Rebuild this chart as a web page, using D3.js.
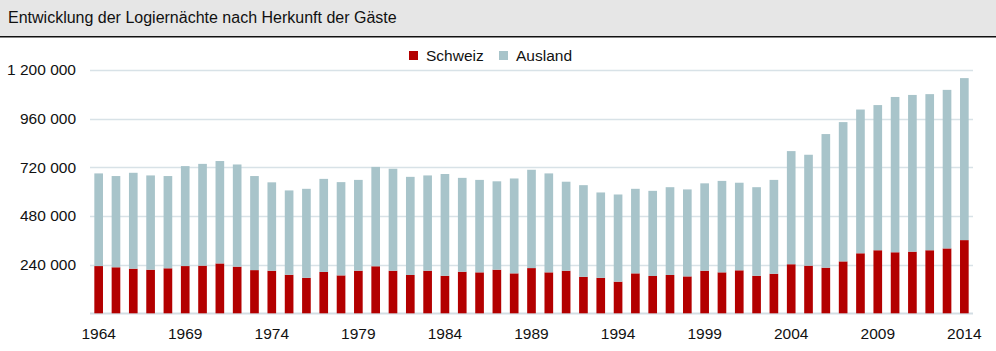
<!DOCTYPE html>
<html><head><meta charset="utf-8">
<script src="https://cdn.jsdelivr.net/npm/d3@7"></script>
<style>
html,body{margin:0;padding:0;background:#fff;}
svg{display:block;font-family:"Liberation Sans",Arial,Helvetica,sans-serif;}
</style></head>
<body>
<svg id="chart" width="996" height="351"></svg>
<script>
const years = d3.range(1964, 2015);
const schweiz = [233000,227000,220000,215000,222000,233000,235000,246000,230000,213000,
  210000,190000,175000,204000,187000,210000,232000,210000,189000,210000,
  185000,205000,202000,215000,197000,223000,202000,210000,180000,175000,
  156000,197000,184000,189000,182000,210000,202000,212000,185000,195000,
  242000,235000,225000,256000,296000,311000,301000,304000,311000,320000,361000];
const ausland = [457000,450000,473000,465000,455000,493000,502000,505000,504000,464000,
  436000,416000,439000,459000,460000,448000,490000,503000,484000,470000,
  502000,463000,456000,436000,468000,485000,488000,439000,452000,421000,
  430000,417000,420000,433000,429000,431000,451000,432000,437000,463000,
  558000,547000,659000,687000,709000,716000,766000,773000,770000,782000,799000];
const yTicks = [240000,480000,720000,960000,1200000];
const xTickYears = [1964,1969,1974,1979,1984,1989,1994,1999,2004,2009,2014];
const seriesNames = ["Schweiz","Ausland"];
const colors = ["#b30000","#a8c4ca"];

const svg = d3.select("#chart");
const W = 996;

// title bar
svg.append("rect").attr("x",0).attr("y",0).attr("width",W).attr("height",36).attr("fill","#e6e6e6");
svg.append("rect").attr("x",0).attr("y",36).attr("width",W).attr("height",1.5).attr("fill","#111");
svg.append("text").attr("x",8).attr("y",22.5).attr("font-size",16).attr("fill","#111")
  .text("Entwicklung der Logiernächte nach Herkunft der Gäste");

const x = d3.scaleBand().domain(years).range([90,973]).paddingInner(0.5).paddingOuter(0.25);
const y = d3.scaleLinear().domain([0,1200000]).range([313.3,70]);

const fmt = v => d3.format(",")(v).replace(/,/g," ");

// gridlines
svg.append("g").selectAll("line").data([0].concat(yTicks)).join("line")
  .attr("x1",90).attr("x2",973)
  .attr("y1",d=>Math.round(y(d))+0.5).attr("y2",d=>Math.round(y(d))+0.5)
  .attr("stroke",d=> d===0 ? "#d3dde3" : "#d8e2e7").attr("stroke-width",d=>d===0?2:1.3);

// y labels
svg.append("g").selectAll("text").data(yTicks).join("text")
  .attr("x",76).attr("y",d=>y(d)).attr("dy","0.35em").attr("text-anchor","end")
  .attr("font-size",15.5).attr("fill","#111").text(fmt);

// stacked data
const rows = years.map((yr,i)=>({year:yr, Schweiz:schweiz[i], Ausland:ausland[i]}));
const stack = d3.stack().keys(seriesNames)(rows);
svg.append("g").selectAll("g").data(stack).join("g")
  .attr("fill",(d,i)=>colors[i])
  .selectAll("rect").data(d=>d).join("rect")
  .attr("x",d=>x(d.data.year)).attr("width",x.bandwidth())
  .attr("y",d=>y(d[1])).attr("height",d=>y(d[0])-y(d[1]));

// x labels
svg.append("g").selectAll("text").data(xTickYears).join("text")
  .attr("x",d=>x(d)+x.bandwidth()/2).attr("y",339).attr("text-anchor","middle")
  .attr("font-size",15.5).attr("fill","#111").text(d=>d);

// legend
const leg = [{name:"Schweiz",sx:409,tx:426},{name:"Ausland",sx:499,tx:516}];
leg.forEach((l,i)=>{
  svg.append("rect").attr("x",l.sx).attr("y",51).attr("width",9).attr("height",9).attr("fill",colors[i]);
  svg.append("text").attr("x",l.tx).attr("y",55.5).attr("dy","0.35em").attr("font-size",15.5).attr("fill","#111").text(l.name);
});
</script>
</body></html>
